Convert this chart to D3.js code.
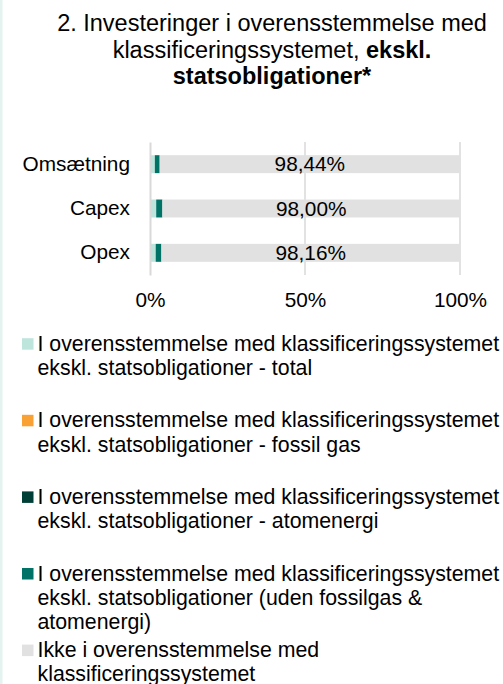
<!DOCTYPE html>
<html>
<head>
<meta charset="utf-8">
<script src="https://cdn.jsdelivr.net/npm/d3@7"></script>
<style>
html,body{margin:0;padding:0;background:#fff;}
svg{display:block;font-family:"Liberation Sans",Arial,sans-serif;}
</style>
</head>
<body>
<svg id="chart" width="503" height="684"></svg>
<script>
// ---- data ----
const categories = ["Omsætning", "Capex", "Opex"];
const totalValues = [1.56, 2.00, 1.84];
const fossilGasValues = [0, 0, 0];
const atomValues = [0, 0, 0];
const udenValues = [1.56, 2.00, 1.84];
const ikkeValues = [98.44, 98.00, 98.16];
const ikkeLabels = ["98,44%", "98,00%", "98,16%"];
const tickValues = [0, 50, 100];
const tickLabels = ["0%", "50%", "100%"];
const seriesNames = [
  "I overensstemmelse med klassificeringssystemet ekskl. statsobligationer - total",
  "I overensstemmelse med klassificeringssystemet ekskl. statsobligationer - fossil gas",
  "I overensstemmelse med klassificeringssystemet ekskl. statsobligationer - atomenergi",
  "I overensstemmelse med klassificeringssystemet ekskl. statsobligationer (uden fossilgas & atomenergi)",
  "Ikke i overensstemmelse med klassificeringssystemet"
];
const legendLines = [
  ["I overensstemmelse med klassificeringssystemet", "ekskl. statsobligationer - total"],
  ["I overensstemmelse med klassificeringssystemet", "ekskl. statsobligationer - fossil gas"],
  ["I overensstemmelse med klassificeringssystemet", "ekskl. statsobligationer - atomenergi"],
  ["I overensstemmelse med klassificeringssystemet", "ekskl. statsobligationer (uden fossilgas &", "atomenergi)"],
  ["Ikke i overensstemmelse med", "klassificeringssystemet"]
];
const colors = ["#bde5dc", "#f9a132", "#003f35", "#007366", "#e1e1e1"];

const seriesValues = [totalValues, fossilGasValues, atomValues, udenValues, ikkeValues];
const rows = categories.map((c, i) => {
  const r = {cat: c};
  seriesNames.forEach((s, j) => r[s] = seriesValues[j][i]);
  return r;
});

const svg = d3.select("#chart");

// left accent strip
svg.append("rect").attr("x", 0).attr("y", 0).attr("width", 2.5).attr("height", 684).attr("fill", "#e4f3ef");

// title
const title = svg.append("text").attr("text-anchor", "middle").attr("font-size", 23.5).attr("fill", "#000");
title.append("tspan").attr("x", 272).attr("y", 31).text("2. Investeringer i overensstemmelse med");
const l2 = title.append("tspan").attr("x", 272).attr("y", 57.5);
l2.append("tspan").text("klassificeringssystemet, ");
l2.append("tspan").attr("font-weight", "bold").text("ekskl.");
title.append("tspan").attr("x", 272).attr("y", 84).attr("font-weight", "bold").text("statsobligationer*");

// scales
const plot = {left: 150, right: 460, top: 142, bottom: 275};
const x = d3.scaleLinear().domain([0, 100]).range([plot.left, plot.right]);
const y = d3.scaleBand().domain(categories).range([plot.top, plot.bottom]).paddingInner(0.595).paddingOuter(0.2975);

// gridlines
svg.append("g").selectAll("line").data(tickValues.slice(1)).join("line")
  .attr("x1", d => x(d)).attr("x2", d => x(d))
  .attr("y1", plot.top).attr("y2", plot.bottom)
  .attr("stroke", "#d9d9d9").attr("stroke-width", 1.5);

// clip
svg.append("clipPath").attr("id", "plotclip").append("rect")
  .attr("x", plot.left).attr("y", plot.top).attr("width", plot.right - plot.left).attr("height", plot.bottom - plot.top);

const stack = d3.stack().keys(seriesNames);
const stacked = stack(rows);

const gBars = svg.append("g").attr("clip-path", "url(#plotclip)");
stacked.forEach((layer, li) => {
  gBars.append("g").attr("fill", colors[li]).selectAll("rect").data(layer).join("rect")
    .attr("x", d => x(d[0]))
    .attr("y", d => y(d.data.cat))
    .attr("width", d => Math.max(0, x(d[1]) - x(d[0])))
    .attr("height", y.bandwidth());
});

// value labels on the grey series
const greyLayer = stacked[4];
svg.append("g").selectAll("text").data(greyLayer).join("text")
  .attr("x", d => (x(Math.max(0, d[0])) + x(Math.min(100, d[1]))) / 2)
  .attr("y", d => y(d.data.cat) + y.bandwidth() / 2)
  .attr("dy", "0.35em")
  .attr("text-anchor", "middle").attr("font-size", 20.8).attr("fill", "#000")
  .text((d, i) => ikkeLabels[i]);

// y axis
const yAxis = d3.axisLeft(y).tickSize(0).tickPadding(20);
const gy = svg.append("g").attr("transform", `translate(${plot.left},0)`).call(yAxis);
gy.select(".domain").attr("stroke", "#d9d9d9").attr("stroke-width", 2);
gy.selectAll("text").attr("font-size", 20.8).attr("font-family", "Liberation Sans, Arial, sans-serif").attr("fill", "#000");

// x axis
const xAxis = d3.axisBottom(x).tickValues(tickValues).tickFormat((d, i) => tickLabels[i]).tickSize(0).tickPadding(0);
const gx = svg.append("g").attr("transform", `translate(0,${plot.bottom})`).call(xAxis);
gx.select(".domain").remove();
gx.selectAll("text").attr("font-size", 20.8).attr("font-family", "Liberation Sans, Arial, sans-serif").attr("fill", "#000")
  .attr("dy", null).attr("y", 31.5);

// legend
const legend = svg.append("g");
legendLines.forEach((lines, i) => {
  const base = 350.7 + i * 76.6;
  legend.append("rect").attr("x", 22).attr("y", base - 12.5).attr("width", 11.5).attr("height", 11.5).attr("fill", colors[i]);
  const t = legend.append("text").attr("font-size", 21.3).attr("fill", "#000");
  lines.forEach((ln, k) => {
    t.append("tspan").attr("x", 37.5).attr("y", base + k * 24.3).text(ln);
  });
});
</script>
</body>
</html>
